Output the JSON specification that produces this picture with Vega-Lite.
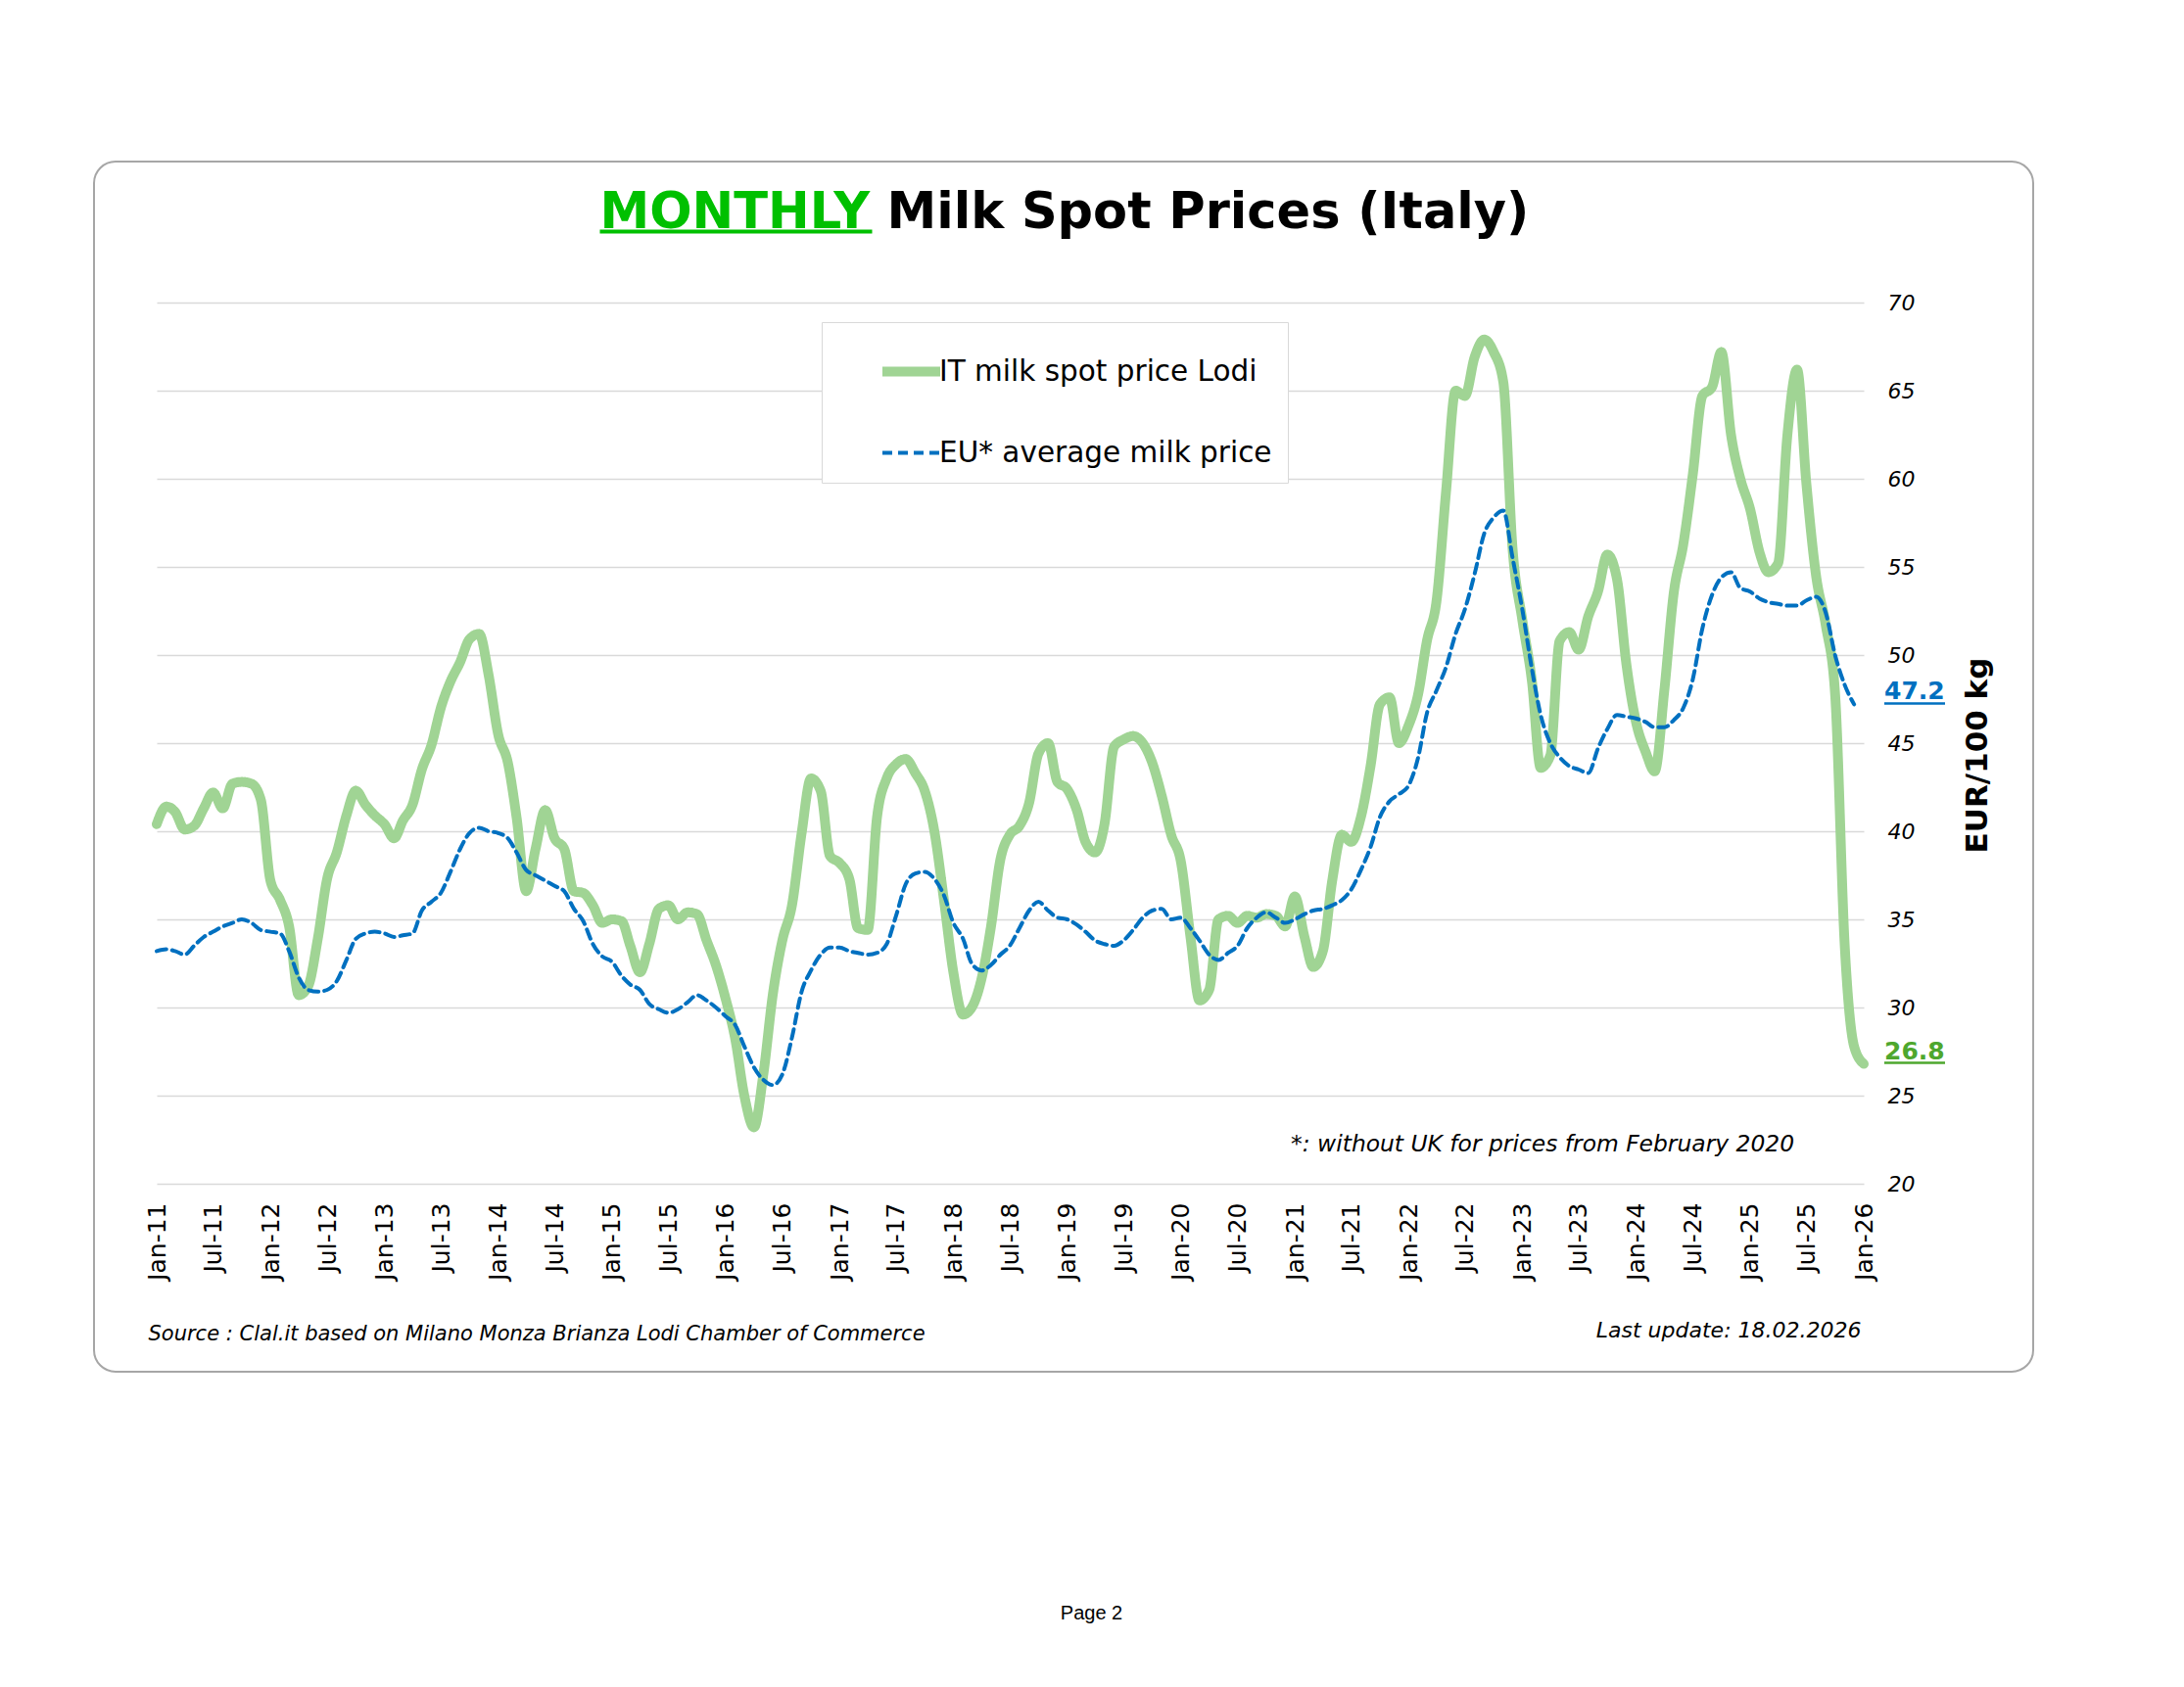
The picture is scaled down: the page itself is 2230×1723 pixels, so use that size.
{
  "$schema": "https://vega.github.io/schema/vega-lite/v6.json",
  "description": "Monthly milk spot prices in Italy (Lodi) against the EU average milk price, Jan 2011 - Jan 2026.",
  "autosize": {"type": "none"},
  "width": 1980,
  "height": 1236,
  "padding": {"left": 96, "top": 165, "right": 154, "bottom": 322},
  "background": "white",
  "config": {
    "font": "DejaVu Sans",
    "view": {"stroke": "#a6a6a6", "strokeWidth": 2, "cornerRadius": 22, "fill": "white"},
    "axis": {"labelFont": "DejaVu Sans", "titleFont": "DejaVu Sans", "labelColor": "black", "titleColor": "black"},
    "legend": {
      "orient": "none",
      "legendX": 743,
      "legendY": 164,
      "direction": "vertical",
      "fillColor": "white",
      "strokeColor": "#d9d9d9",
      "padding": 16,
      "symbolOffset": 41,
      "symbolType": "stroke",
      "symbolSize": 3481,
      "rowPadding": 31,
      "labelOffset": -6,
      "labelFont": "DejaVu Sans",
      "labelFontSize": 29.5,
      "labelColor": "black",
      "labelLimit": 600
    }
  },
  "datasets": {
    "prices": [
      {"date": "2011-01-01", "IT": 40.4, "EU": 33.2},
      {"date": "2011-02-01", "IT": 41.4, "EU": 33.3},
      {"date": "2011-03-01", "IT": 41.1, "EU": 33.2},
      {"date": "2011-04-01", "IT": 40.1, "EU": 33.0},
      {"date": "2011-05-01", "IT": 40.3, "EU": 33.5},
      {"date": "2011-06-01", "IT": 41.3, "EU": 34.0},
      {"date": "2011-07-01", "IT": 42.2, "EU": 34.3},
      {"date": "2011-08-01", "IT": 41.3, "EU": 34.6},
      {"date": "2011-09-01", "IT": 42.7, "EU": 34.8},
      {"date": "2011-10-01", "IT": 42.8, "EU": 35.0},
      {"date": "2011-11-01", "IT": 42.7, "EU": 34.8},
      {"date": "2011-12-01", "IT": 41.8, "EU": 34.4},
      {"date": "2012-01-01", "IT": 37.2, "EU": 34.3},
      {"date": "2012-02-01", "IT": 36.1, "EU": 34.2},
      {"date": "2012-03-01", "IT": 34.6, "EU": 33.2},
      {"date": "2012-04-01", "IT": 30.7, "EU": 31.7},
      {"date": "2012-05-01", "IT": 31.2, "EU": 31.0},
      {"date": "2012-06-01", "IT": 33.9, "EU": 30.9},
      {"date": "2012-07-01", "IT": 37.3, "EU": 31.0},
      {"date": "2012-08-01", "IT": 38.8, "EU": 31.5},
      {"date": "2012-09-01", "IT": 40.9, "EU": 32.7},
      {"date": "2012-10-01", "IT": 42.3, "EU": 33.9},
      {"date": "2012-11-01", "IT": 41.5, "EU": 34.2},
      {"date": "2012-12-01", "IT": 40.9, "EU": 34.3},
      {"date": "2013-01-01", "IT": 40.4, "EU": 34.2},
      {"date": "2013-02-01", "IT": 39.6, "EU": 34.0},
      {"date": "2013-03-01", "IT": 40.6, "EU": 34.1},
      {"date": "2013-04-01", "IT": 41.5, "EU": 34.2},
      {"date": "2013-05-01", "IT": 43.5, "EU": 35.5},
      {"date": "2013-06-01", "IT": 44.9, "EU": 36.0},
      {"date": "2013-07-01", "IT": 47.0, "EU": 36.5},
      {"date": "2013-08-01", "IT": 48.5, "EU": 37.7},
      {"date": "2013-09-01", "IT": 49.6, "EU": 39.0},
      {"date": "2013-10-01", "IT": 50.9, "EU": 39.9},
      {"date": "2013-11-01", "IT": 51.2, "EU": 40.2},
      {"date": "2013-12-01", "IT": 48.9, "EU": 40.0},
      {"date": "2014-01-01", "IT": 45.5, "EU": 39.9},
      {"date": "2014-02-01", "IT": 43.9, "EU": 39.6},
      {"date": "2014-03-01", "IT": 40.8, "EU": 38.8},
      {"date": "2014-04-01", "IT": 36.6, "EU": 37.8},
      {"date": "2014-05-01", "IT": 39.0, "EU": 37.5},
      {"date": "2014-06-01", "IT": 41.2, "EU": 37.2},
      {"date": "2014-07-01", "IT": 39.6, "EU": 36.9},
      {"date": "2014-08-01", "IT": 39.0, "EU": 36.6},
      {"date": "2014-09-01", "IT": 36.6, "EU": 35.6},
      {"date": "2014-10-01", "IT": 36.5, "EU": 34.9},
      {"date": "2014-11-01", "IT": 35.8, "EU": 33.6},
      {"date": "2014-12-01", "IT": 34.8, "EU": 32.9},
      {"date": "2015-01-01", "IT": 35.0, "EU": 32.6},
      {"date": "2015-02-01", "IT": 34.9, "EU": 31.8},
      {"date": "2015-03-01", "IT": 33.5, "EU": 31.3},
      {"date": "2015-04-01", "IT": 32.0, "EU": 31.0},
      {"date": "2015-05-01", "IT": 33.6, "EU": 30.2},
      {"date": "2015-06-01", "IT": 35.6, "EU": 29.9},
      {"date": "2015-07-01", "IT": 35.8, "EU": 29.7},
      {"date": "2015-08-01", "IT": 35.0, "EU": 29.9},
      {"date": "2015-09-01", "IT": 35.4, "EU": 30.3},
      {"date": "2015-10-01", "IT": 35.3, "EU": 30.7},
      {"date": "2015-11-01", "IT": 33.8, "EU": 30.4},
      {"date": "2015-12-01", "IT": 32.4, "EU": 30.0},
      {"date": "2016-01-01", "IT": 30.5, "EU": 29.5},
      {"date": "2016-02-01", "IT": 28.2, "EU": 29.0},
      {"date": "2016-03-01", "IT": 25.0, "EU": 27.8},
      {"date": "2016-04-01", "IT": 23.2, "EU": 26.6},
      {"date": "2016-05-01", "IT": 26.2, "EU": 25.9},
      {"date": "2016-06-01", "IT": 30.8, "EU": 25.6},
      {"date": "2016-07-01", "IT": 33.8, "EU": 26.2},
      {"date": "2016-08-01", "IT": 35.8, "EU": 28.3},
      {"date": "2016-09-01", "IT": 39.9, "EU": 30.9},
      {"date": "2016-10-01", "IT": 43.0, "EU": 32.1},
      {"date": "2016-11-01", "IT": 42.3, "EU": 33.0},
      {"date": "2016-12-01", "IT": 38.6, "EU": 33.4},
      {"date": "2017-01-01", "IT": 38.2, "EU": 33.4},
      {"date": "2017-02-01", "IT": 37.3, "EU": 33.2},
      {"date": "2017-03-01", "IT": 34.5, "EU": 33.1},
      {"date": "2017-04-01", "IT": 34.4, "EU": 33.0},
      {"date": "2017-05-01", "IT": 40.8, "EU": 33.1},
      {"date": "2017-06-01", "IT": 43.0, "EU": 33.6},
      {"date": "2017-07-01", "IT": 43.8, "EU": 35.2},
      {"date": "2017-08-01", "IT": 44.1, "EU": 37.0},
      {"date": "2017-09-01", "IT": 43.3, "EU": 37.6},
      {"date": "2017-10-01", "IT": 42.3, "EU": 37.7},
      {"date": "2017-11-01", "IT": 40.0, "EU": 37.3},
      {"date": "2017-12-01", "IT": 36.2, "EU": 36.4},
      {"date": "2018-01-01", "IT": 32.0, "EU": 34.8},
      {"date": "2018-02-01", "IT": 29.6, "EU": 33.9},
      {"date": "2018-03-01", "IT": 30.0, "EU": 32.5},
      {"date": "2018-04-01", "IT": 31.6, "EU": 32.1},
      {"date": "2018-05-01", "IT": 34.5, "EU": 32.4},
      {"date": "2018-06-01", "IT": 38.4, "EU": 33.0},
      {"date": "2018-07-01", "IT": 39.8, "EU": 33.5},
      {"date": "2018-08-01", "IT": 40.3, "EU": 34.5},
      {"date": "2018-09-01", "IT": 41.6, "EU": 35.5},
      {"date": "2018-10-01", "IT": 44.4, "EU": 36.0},
      {"date": "2018-11-01", "IT": 45.0, "EU": 35.5},
      {"date": "2018-12-01", "IT": 42.8, "EU": 35.1},
      {"date": "2019-01-01", "IT": 42.4, "EU": 35.0},
      {"date": "2019-02-01", "IT": 41.2, "EU": 34.7},
      {"date": "2019-03-01", "IT": 39.4, "EU": 34.3},
      {"date": "2019-04-01", "IT": 38.8, "EU": 33.8},
      {"date": "2019-05-01", "IT": 40.4, "EU": 33.6},
      {"date": "2019-06-01", "IT": 44.8, "EU": 33.5},
      {"date": "2019-07-01", "IT": 45.2, "EU": 33.8},
      {"date": "2019-08-01", "IT": 45.4, "EU": 34.4},
      {"date": "2019-09-01", "IT": 45.0, "EU": 35.1},
      {"date": "2019-10-01", "IT": 43.9, "EU": 35.5},
      {"date": "2019-11-01", "IT": 42.0, "EU": 35.6},
      {"date": "2019-12-01", "IT": 39.8, "EU": 35.0},
      {"date": "2020-01-01", "IT": 38.3, "EU": 35.1},
      {"date": "2020-02-01", "IT": 34.0, "EU": 34.5},
      {"date": "2020-03-01", "IT": 30.4, "EU": 33.8},
      {"date": "2020-04-01", "IT": 31.0, "EU": 33.0},
      {"date": "2020-05-01", "IT": 35.0, "EU": 32.7},
      {"date": "2020-06-01", "IT": 35.2, "EU": 33.1},
      {"date": "2020-07-01", "IT": 34.8, "EU": 33.5},
      {"date": "2020-08-01", "IT": 35.2, "EU": 34.5},
      {"date": "2020-09-01", "IT": 35.1, "EU": 35.1},
      {"date": "2020-10-01", "IT": 35.3, "EU": 35.4},
      {"date": "2020-11-01", "IT": 35.2, "EU": 35.1},
      {"date": "2020-12-01", "IT": 34.6, "EU": 34.8},
      {"date": "2021-01-01", "IT": 36.3, "EU": 35.0},
      {"date": "2021-02-01", "IT": 34.0, "EU": 35.3},
      {"date": "2021-03-01", "IT": 32.3, "EU": 35.5},
      {"date": "2021-04-01", "IT": 33.2, "EU": 35.6},
      {"date": "2021-05-01", "IT": 37.2, "EU": 35.8},
      {"date": "2021-06-01", "IT": 39.8, "EU": 36.1},
      {"date": "2021-07-01", "IT": 39.4, "EU": 36.7},
      {"date": "2021-08-01", "IT": 40.8, "EU": 37.8},
      {"date": "2021-09-01", "IT": 43.7, "EU": 39.1},
      {"date": "2021-10-01", "IT": 47.2, "EU": 40.8},
      {"date": "2021-11-01", "IT": 47.6, "EU": 41.7},
      {"date": "2021-12-01", "IT": 45.0, "EU": 42.1},
      {"date": "2022-01-01", "IT": 46.0, "EU": 42.6},
      {"date": "2022-02-01", "IT": 47.8, "EU": 44.2},
      {"date": "2022-03-01", "IT": 50.8, "EU": 46.7},
      {"date": "2022-04-01", "IT": 53.1, "EU": 48.0},
      {"date": "2022-05-01", "IT": 59.2, "EU": 49.3},
      {"date": "2022-06-01", "IT": 65.0, "EU": 51.2},
      {"date": "2022-07-01", "IT": 64.7, "EU": 52.6},
      {"date": "2022-08-01", "IT": 66.9, "EU": 54.6},
      {"date": "2022-09-01", "IT": 67.9, "EU": 56.9},
      {"date": "2022-10-01", "IT": 67.2, "EU": 57.8},
      {"date": "2022-11-01", "IT": 65.5, "EU": 58.2},
      {"date": "2022-12-01", "IT": 56.0, "EU": 55.5},
      {"date": "2023-01-01", "IT": 52.0, "EU": 52.6},
      {"date": "2023-02-01", "IT": 48.5, "EU": 49.2},
      {"date": "2023-03-01", "IT": 43.6, "EU": 46.6},
      {"date": "2023-04-01", "IT": 44.3, "EU": 45.0},
      {"date": "2023-05-01", "IT": 50.8, "EU": 44.2},
      {"date": "2023-06-01", "IT": 51.3, "EU": 43.7},
      {"date": "2023-07-01", "IT": 50.3, "EU": 43.5},
      {"date": "2023-08-01", "IT": 52.2, "EU": 43.3},
      {"date": "2023-09-01", "IT": 53.6, "EU": 44.7},
      {"date": "2023-10-01", "IT": 55.7, "EU": 45.8},
      {"date": "2023-11-01", "IT": 54.3, "EU": 46.6},
      {"date": "2023-12-01", "IT": 49.5, "EU": 46.5},
      {"date": "2024-01-01", "IT": 46.2, "EU": 46.4},
      {"date": "2024-02-01", "IT": 44.5, "EU": 46.2},
      {"date": "2024-03-01", "IT": 43.4, "EU": 45.9},
      {"date": "2024-04-01", "IT": 48.0, "EU": 45.9},
      {"date": "2024-05-01", "IT": 53.5, "EU": 46.3},
      {"date": "2024-06-01", "IT": 56.3, "EU": 47.0},
      {"date": "2024-07-01", "IT": 60.2, "EU": 48.6},
      {"date": "2024-08-01", "IT": 64.7, "EU": 51.5},
      {"date": "2024-09-01", "IT": 65.2, "EU": 53.4},
      {"date": "2024-10-01", "IT": 67.2, "EU": 54.4},
      {"date": "2024-11-01", "IT": 62.5, "EU": 54.7},
      {"date": "2024-12-01", "IT": 60.0, "EU": 53.8},
      {"date": "2025-01-01", "IT": 58.3, "EU": 53.6},
      {"date": "2025-02-01", "IT": 55.8, "EU": 53.2},
      {"date": "2025-03-01", "IT": 54.7, "EU": 53.0},
      {"date": "2025-04-01", "IT": 55.2, "EU": 52.9},
      {"date": "2025-05-01", "IT": 62.5, "EU": 52.8},
      {"date": "2025-06-01", "IT": 66.2, "EU": 52.8},
      {"date": "2025-07-01", "IT": 59.7, "EU": 53.1},
      {"date": "2025-08-01", "IT": 54.5, "EU": 53.3},
      {"date": "2025-09-01", "IT": 51.7, "EU": 52.4},
      {"date": "2025-10-01", "IT": 47.8, "EU": 50.0},
      {"date": "2025-11-01", "IT": 33.5, "EU": 48.3},
      {"date": "2025-12-01", "IT": 27.8, "EU": 47.2},
      {"date": "2026-01-01", "IT": 26.8, "EU": null}
    ],
    "note": [
      {"text": "*: without UK for prices from February 2020"}
    ]
  },
  "resolve": {"axis": {"x": "independent", "y": "independent"}},
  "layer": [
    {
      "data": {"name": "prices"},
      "transform": [
        {"fold": ["IT", "EU"], "as": ["series", "value"]},
        {"filter": "isValid(datum.value)"}
      ],
      "mark": {"type": "line", "interpolate": "monotone", "strokeCap": "round"},
      "encoding": {
        "x": {
          "field": "date",
          "type": "temporal",
          "scale": {
            "type": "utc",
            "domain": [
              {"year": 2011, "month": 1, "date": 1, "utc": true},
              {"year": 2026, "month": 1, "date": 1, "utc": true}
            ],
            "range": [64, 1807],
            "nice": false
          },
          "axis": {
            "orient": "bottom",
            "offset": -192,
            "tickCount": {"interval": "month", "step": 6},
            "labelExpr": "utcFormat(datum.value, '%b-%y')",
            "labelAngle": -90,
            "labelFontSize": 25,
            "labelPadding": 19,
            "labelOverlap": false,
            "labelFlush": false,
            "labelBound": false,
            "ticks": false,
            "domain": false,
            "grid": false,
            "title": "Source : Clal.it based on Milano Monza Brianza Lodi Chamber of Commerce",
            "titleX": 55,
            "titleY": 153,
            "titleAlign": "left",
            "titleBaseline": "middle",
            "titleFontSize": 21,
            "titleFontStyle": "italic",
            "titleFontWeight": "normal"
          }
        },
        "y": {
          "field": "value",
          "type": "quantitative",
          "scale": {"domain": [20, 70], "range": [1044, 144], "nice": false, "zero": false},
          "axis": {
            "orient": "right",
            "offset": -173,
            "values": [20, 25, 30, 35, 40, 45, 50, 55, 60, 65, 70],
            "labelFontSize": 22,
            "labelFontStyle": "italic",
            "labelPadding": 24,
            "ticks": false,
            "domain": false,
            "grid": false,
            "title": "EUR/100 kg",
            "titleX": 116,
            "titleY": 606,
            "titleAngle": 270,
            "titleAlign": "center",
            "titleBaseline": "middle",
            "titleFontSize": 31,
            "titleFontWeight": "bold"
          }
        },
        "color": {
          "field": "series",
          "type": "nominal",
          "scale": {"domain": ["IT", "EU"], "range": ["#a0d494", "#0070c0"]},
          "legend": {"title": null, "labelExpr": "datum.value == 'IT' ? 'IT milk spot price Lodi' : 'EU* average milk price'"}
        },
        "strokeDash": {
          "field": "series",
          "type": "nominal",
          "scale": {"domain": ["IT", "EU"], "range": [[1, 0], [10, 6]]},
          "legend": {"title": null, "labelExpr": "datum.value == 'IT' ? 'IT milk spot price Lodi' : 'EU* average milk price'"}
        },
        "strokeWidth": {
          "field": "series",
          "type": "nominal",
          "scale": {"type": "point", "domain": ["IT", "EU"], "range": [10, 4], "padding": 0},
          "legend": {"title": null, "labelExpr": "datum.value == 'IT' ? 'IT milk spot price Lodi' : 'EU* average milk price'"}
        }
      }
    },
    {
      "data": {"name": "prices"},
      "transform": [
        {"fold": ["IT", "EU"], "as": ["series", "value"]},
        {"filter": "isValid(datum.value)"},
        {"joinaggregate": [{"op": "max", "field": "date", "as": "end"}]},
        {"window": [{"op": "row_number", "as": "rank"}], "sort": [{"field": "date", "order": "descending"}], "groupby": ["series"]},
        {"filter": "datum.rank == 1"}
      ],
      "mark": {"type": "text", "align": "left", "baseline": "middle", "dx": 21, "dy": -13, "fontSize": 25, "fontWeight": "bold"},
      "encoding": {
        "x": {
          "field": "end",
          "type": "temporal",
          "axis": {
            "orient": "top",
            "offset": -71,
            "labels": false,
            "ticks": false,
            "grid": false,
            "domain": true,
            "domainColor": "#00c000",
            "domainWidth": 4,
            "domainDash": [0, 452, 278, 3000],
            "title": "MONTHLY",
            "titleX": 516,
            "titleY": -4,
            "titleAlign": "left",
            "titleBaseline": "alphabetic",
            "titleFontSize": 51,
            "titleFontWeight": "bold",
            "titleColor": "#00c000"
          }
        },
        "y": {
          "field": "value",
          "type": "quantitative",
          "axis": {
            "orient": "left",
            "labels": false,
            "ticks": false,
            "domain": false,
            "grid": false,
            "title": "Last update: 18.02.2026",
            "titleAngle": 0,
            "titleX": 1804,
            "titleY": 1193,
            "titleAlign": "right",
            "titleBaseline": "middle",
            "titleFontSize": 22,
            "titleFontStyle": "italic",
            "titleFontWeight": "normal"
          }
        },
        "text": {"field": "value", "type": "quantitative", "format": ".1f"},
        "fill": {
          "field": "series",
          "type": "nominal",
          "scale": {"domain": ["IT", "EU"], "range": ["#4ea72e", "#0070c0"]},
          "legend": null
        }
      }
    },
    {
      "data": {"name": "prices"},
      "transform": [
        {"fold": ["IT", "EU"], "as": ["series", "value"]},
        {"filter": "isValid(datum.value)"},
        {"joinaggregate": [{"op": "max", "field": "date", "as": "end"}]},
        {"window": [{"op": "row_number", "as": "rank"}], "sort": [{"field": "date", "order": "descending"}], "groupby": ["series"]},
        {"filter": "datum.rank == 1"}
      ],
      "mark": {"type": "rule", "xOffset": 21, "x2Offset": 83, "yOffset": -1, "strokeWidth": 2.5},
      "encoding": {
        "x": {
          "field": "end",
          "type": "temporal",
          "axis": {
            "orient": "top",
            "labels": false,
            "ticks": false,
            "domain": false,
            "grid": false,
            "title": "Milk Spot Prices (Italy)",
            "titleX": 809,
            "titleY": 67,
            "titleAlign": "left",
            "titleBaseline": "alphabetic",
            "titleFontSize": 51,
            "titleFontWeight": "bold"
          }
        },
        "x2": {"field": "end"},
        "y": {
          "field": "value",
          "type": "quantitative",
          "axis": {
            "orient": "left",
            "values": [20, 25, 30, 35, 40, 45, 50, 55, 60, 65, 70],
            "labels": false,
            "ticks": false,
            "domain": false,
            "grid": true,
            "gridColor": "#d9d9d9",
            "gridWidth": 1.5,
            "title": "Page 2",
            "titleAngle": 0,
            "titleX": 1018,
            "titleY": 1482,
            "titleAlign": "center",
            "titleBaseline": "middle",
            "titleFont": "Liberation Sans",
            "titleFontSize": 20,
            "titleFontWeight": "normal"
          }
        },
        "stroke": {
          "field": "series",
          "type": "nominal",
          "scale": {"domain": ["IT", "EU"], "range": ["#4ea72e", "#0070c0"]},
          "legend": null
        }
      }
    },
    {
      "data": {"name": "note"},
      "mark": {"type": "text", "align": "right", "baseline": "middle", "fontSize": 23.4, "fontStyle": "italic", "fontWeight": "normal", "color": "black"},
      "encoding": {
        "x": {"datum": {"year": 2025, "month": 5, "date": 23, "utc": true}, "type": "temporal", "axis": null},
        "y": {"datum": 22.2, "type": "quantitative", "axis": null},
        "text": {"field": "text", "type": "nominal"}
      }
    }
  ]
}
